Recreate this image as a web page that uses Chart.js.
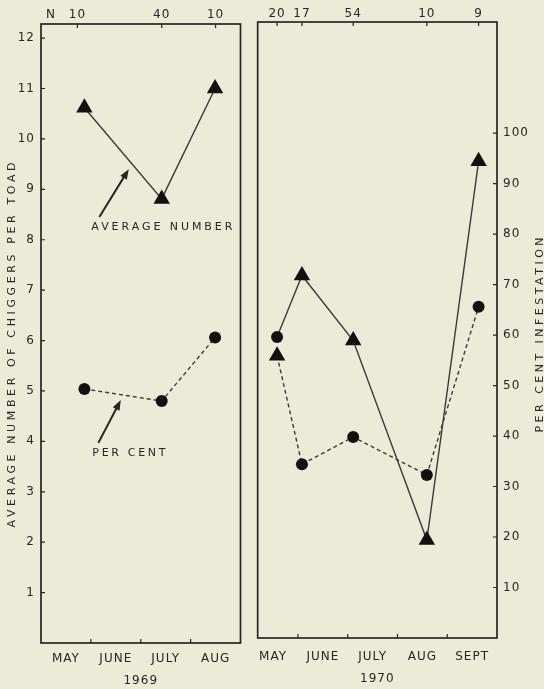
<!DOCTYPE html>
<html>
<head>
<meta charset="utf-8">
<script src="https://cdn.jsdelivr.net/npm/chart.js@4.4.1/dist/chart.umd.min.js"></script>
<style>
  html, body { margin: 0; padding: 0; background: #ecebd8; }
  body { width: 544px; height: 689px; position: relative; overflow: hidden; }
  .panel { position: absolute; top: 0; height: 689px; }
  #p1969 { left: 0; width: 250px; }
  #p1970 { left: 248px; width: 296px; }
</style>
</head>
<body>
<div class="panel" id="p1969"><canvas id="c1969"></canvas></div>
<div class="panel" id="p1970"><canvas id="c1970"></canvas></div>
<script>
// x is in months: 0 = start of May, 1 = start of June, ...
const months1969 = ["MAY", "JUNE", "JULY", "AUG"];
const months1970 = ["MAY", "JUNE", "JULY", "AUG", "SEPT"];
const monthBounds1969 = [1, 2, 3];
const monthBounds1970 = [1, 2, 3, 4];

// 1969
const x1969 = [0.87, 2.42, 3.49];
const nX1969 = [0.73, 2.42, 3.5];
const n1969 = ["10", "40", "10"];
const avg1969 = [10.62, 8.81, 11.0];
const pct1969 = [50.4, 48.0, 60.6];

// 1970 - as drawn: the solid line starts on the May circle, the dashed one on the May triangle
const x1970 = [0.58, 1.08, 2.11, 3.59, 4.63];
const n1970 = ["20", "17", "54", "10", "9"];
const avg1970 = [5.96, 7.18, 5.89, 1.94, 9.44];
const pct1970 = [55.9, 34.4, 39.8, 32.3, 65.6];
const avgStyle1970 = ["circle", "triangle", "triangle", "triangle", "triangle"];
const pctStyle1970 = ["triangle", "circle", "circle", "circle", "circle"];

const avgTicks = [1, 2, 3, 4, 5, 6, 7, 8, 9, 10, 11, 12];
const pctTicks = [10, 20, 30, 40, 50, 60, 70, 80, 90, 100];

const INK = "#262626";
const LINE = "#3a3a3a";
const FONT = "DejaVu Sans";

// text stretched to a given length (the figure uses wide lettering)
function spacedText(ctx, text, x, y, width) {
  ctx.letterSpacing = "0px";
  const w = ctx.measureText(text).width;
  ctx.letterSpacing = ((width - w) / (text.length - 1)) + "px";
  ctx.textAlign = "left";
  ctx.fillText(text, x, y);
  ctx.letterSpacing = "0px";
}

function arrow(ctx, x0, y0, x1, y1) {
  const a = Math.atan2(y1 - y0, x1 - x0);
  const head = 10, half = 3.8;
  ctx.lineWidth = 2;
  ctx.beginPath();
  ctx.moveTo(x0, y0);
  ctx.lineTo(x1 - Math.cos(a) * head * 0.7, y1 - Math.sin(a) * head * 0.7);
  ctx.stroke();
  ctx.beginPath();
  ctx.moveTo(x1, y1);
  ctx.lineTo(x1 - head * Math.cos(a) + half * Math.sin(a), y1 - head * Math.sin(a) - half * Math.cos(a));
  ctx.lineTo(x1 - head * Math.cos(a) - half * Math.sin(a), y1 - head * Math.sin(a) + half * Math.cos(a));
  ctx.closePath();
  ctx.fill();
}

const panelPlugin = {
  id: "panel",
  beforeDraw(chart) {
    chart.ctx.letterSpacing = "1px";
  },
  afterDraw(chart, args, o) {
    const { ctx, chartArea: a, scales } = chart;
    ctx.save();
    ctx.letterSpacing = "0px";
    ctx.strokeStyle = INK;
    ctx.fillStyle = INK;

    // panel frame
    ctx.lineWidth = 1.7;
    ctx.strokeRect(a.left, a.top, a.right - a.left, a.bottom - a.top);

    // tick marks, pointing into the panel
    const tk = 4;
    ctx.lineWidth = 1.2;
    ctx.beginPath();
    o.bottomTicks.forEach(v => {
      const x = scales.x.getPixelForValue(v);
      ctx.moveTo(x, a.bottom); ctx.lineTo(x, a.bottom - tk);
    });
    o.topTicks.forEach(v => {
      const x = scales.xTop.getPixelForValue(v);
      ctx.moveTo(x, a.top); ctx.lineTo(x, a.top + tk);
    });
    const side = scales[o.sideAxis];
    side.ticks.forEach(t => {
      const y = side.getPixelForValue(t.value);
      if (side.position === "left") { ctx.moveTo(a.left, y); ctx.lineTo(a.left + tk, y); }
      else { ctx.moveTo(a.right, y); ctx.lineTo(a.right - tk, y); }
    });
    ctx.stroke();

    // rotated axis title
    ctx.font = "11px '" + FONT + "'";
    ctx.textBaseline = "middle";
    const t = o.title;
    ctx.save();
    ctx.translate(t.x, t.y);
    ctx.rotate(-Math.PI / 2);
    spacedText(ctx, t.text, -t.width / 2, 0, t.width);
    ctx.restore();

    // notes with arrows, placed in data units
    const ys = scales.y;
    (o.notes || []).forEach(n => {
      ctx.font = "11px '" + FONT + "'";
      ctx.textBaseline = "middle";
      spacedText(ctx, n.text, scales.x.getPixelForValue(n.x), ys.getPixelForValue(n.y), n.width);
      arrow(ctx,
        scales.x.getPixelForValue(n.from[0]), ys.getPixelForValue(n.from[1]),
        scales.x.getPixelForValue(n.to[0]), ys.getPixelForValue(n.to[1]));
    });
    ctx.restore();
  }
};

const tickFont = { family: FONT, size: 12 };
const noGrid = { display: false, drawTicks: false };

function monthAxis(months, min, max, year, height, labelPad, titlePad) {
  return {
    type: "linear", position: "bottom", min, max,
    afterBuildTicks: s => { s.ticks = months.map((m, i) => ({ value: i + 0.5 })); },
    afterFit: s => { s.height = height; },
    grid: noGrid, border: { display: false },
    ticks: { autoSkip: false, maxRotation: 0, padding: labelPad, color: INK, font: tickFont,
      callback: (v, i) => months[i] },
    title: { display: true, text: year, color: INK, font: tickFont, padding: { top: 0, bottom: titlePad } }
  };
}

function nAxis(xs, labels, min, max, height, pad) {
  return {
    type: "linear", position: "top", min, max,
    afterBuildTicks: s => { s.ticks = xs.map(v => ({ value: v })); },
    afterFit: s => { s.height = height; },
    grid: noGrid, border: { display: false },
    ticks: { autoSkip: false, maxRotation: 0, padding: pad, color: INK, font: tickFont,
      callback: (v, i) => labels[i] }
  };
}

function valueAxis(position, max, ticks, width, pad) {
  return {
    type: "linear", position, min: 0, max,
    afterBuildTicks: s => { s.ticks = ticks.map(v => ({ value: v })); },
    afterFit: s => { s.width = width; },
    grid: noGrid, border: { display: false },
    ticks: { padding: pad, color: INK, font: tickFont, callback: v => String(v) }
  };
}

const base = {
  responsive: true,
  maintainAspectRatio: false,
  animation: false,
  events: []
};

function lineSet(xs, ys, axis, style, dashed) {
  const r = s => (s === "triangle" ? 9.5 : 6);
  return {
    data: xs.map((x, i) => ({ x, y: ys[i] })),
    yAxisID: axis,
    borderColor: LINE,
    borderWidth: 1.4,
    borderDash: dashed ? [4, 3] : [],
    tension: 0,
    pointStyle: style,
    pointRadius: Array.isArray(style) ? style.map(r) : r(style),
    pointBackgroundColor: "#111",
    pointBorderColor: "#111",
    pointBorderWidth: 0
  };
}

new Chart(document.getElementById("c1969"), {
  type: "line",
  data: {
    datasets: [
      lineSet(x1969, avg1969, "y", "triangle", false),
      lineSet(x1969, pct1969, "y1", "circle", true)
    ]
  },
  options: Object.assign({}, base, {
    layout: { padding: { left: 0, right: 7, top: 0, bottom: 0 } },
    plugins: {
      legend: { display: false },
      tooltip: { enabled: false },
      panel: {
        bottomTicks: monthBounds1969,
        topTicks: nX1969,
        sideAxis: "y",
        title: { text: "AVERAGE NUMBER OF CHIGGERS PER TOAD", x: 12, y: 345, width: 365 },
        notes: [
          { text: "AVERAGE NUMBER", x: 1.01, y: 8.25, width: 141, from: [1.17, 8.45], to: [1.76, 9.4] },
          { text: "PER CENT", x: 1.03, y: 3.77, width: 73, from: [1.15, 3.97], to: [1.6, 4.82] }
        ]
      }
    },
    scales: {
      x: monthAxis(months1969, 0, 4, "1969", 46, 9, 1),
      xTop: nAxis([0.2].concat(nX1969), ["N"].concat(n1969), 0, 4, 24, 2),
      y: valueAxis("left", 12.28, avgTicks, 41, 6),
      y1: { display: false, min: 0, max: 122.8 }
    }
  }),
  plugins: [panelPlugin]
});

new Chart(document.getElementById("c1970"), {
  type: "line",
  data: {
    datasets: [
      lineSet(x1970, avg1970, "y", avgStyle1970, false),
      lineSet(x1970, pct1970, "y1", pctStyle1970, true)
    ]
  },
  options: Object.assign({}, base, {
    layout: { padding: { left: 6, right: 0, top: 0, bottom: 0 } },
    plugins: {
      legend: { display: false },
      tooltip: { enabled: false },
      panel: {
        bottomTicks: monthBounds1970,
        topTicks: x1970,
        sideAxis: "y1",
        title: { text: "PER CENT INFESTATION", x: 292, y: 335, width: 195 }
      }
    },
    scales: {
      x: monthAxis(months1970, 0.19, 5.0, "1970", 51, 12, 3),
      xTop: nAxis(x1970, n1970, 0.19, 5.0, 22, 1),
      y: { display: false, min: 0, max: 12.2 },
      y1: valueAxis("right", 122, pctTicks, 47, 6)
    }
  }),
  plugins: [panelPlugin]
});
</script>
</body>
</html>
